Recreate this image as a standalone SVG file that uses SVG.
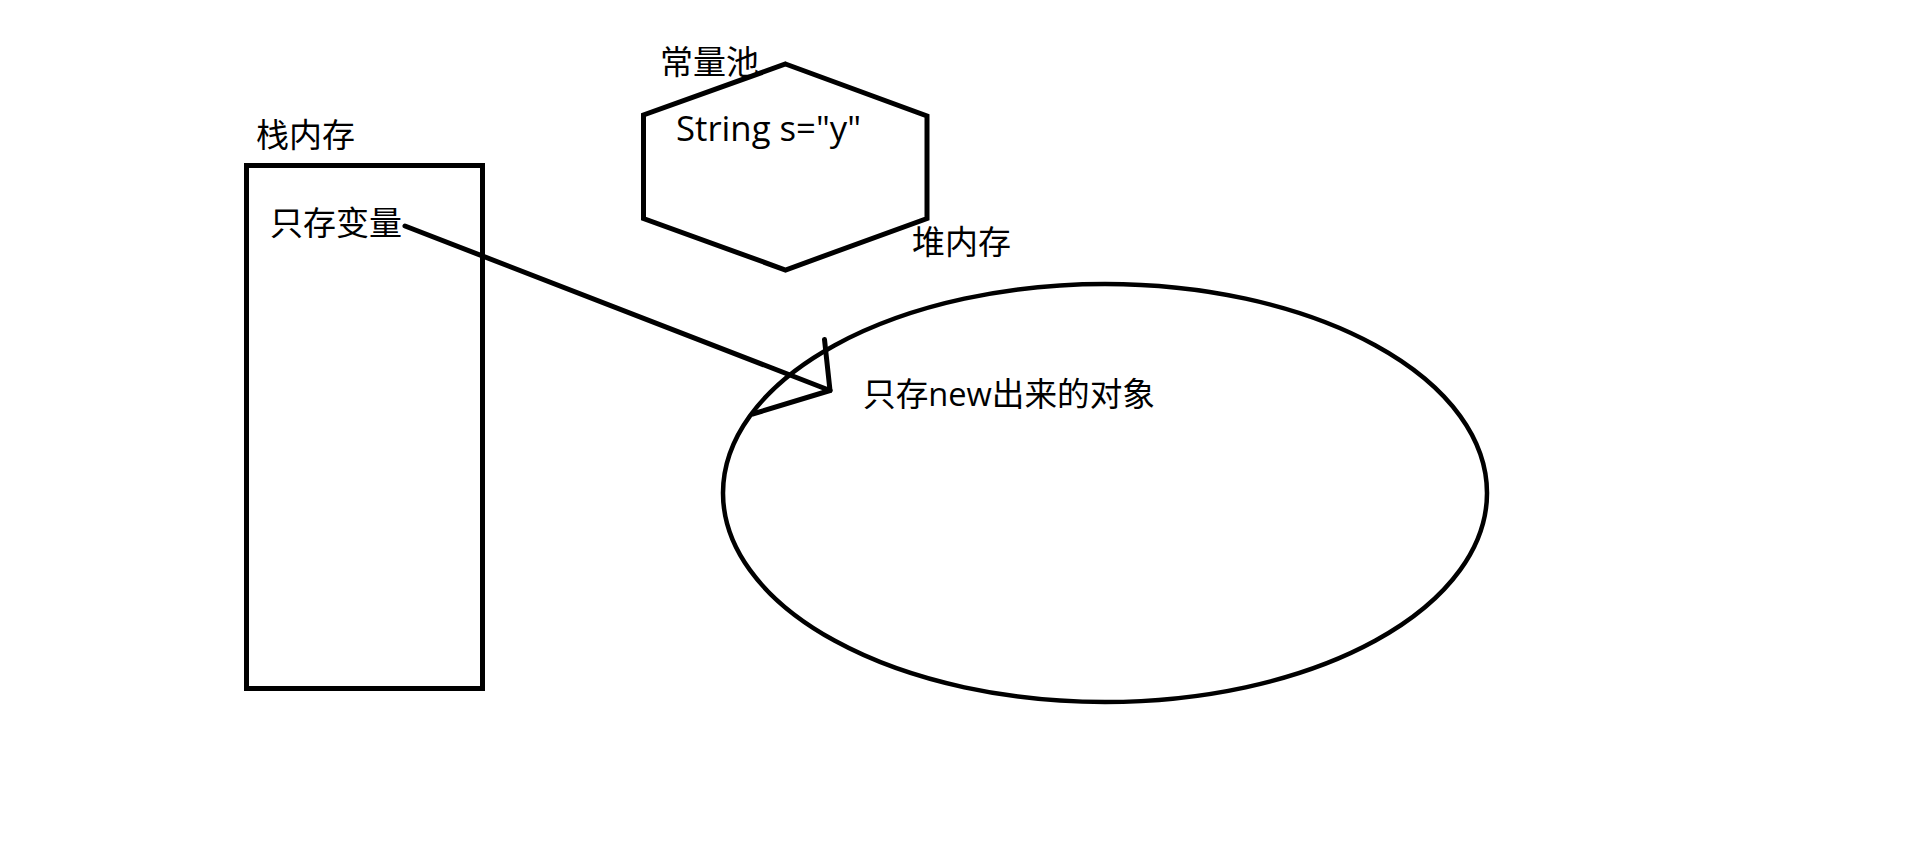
<svg xmlns="http://www.w3.org/2000/svg" width="1914" height="859" viewBox="0 0 1914 859">
<style>
.shape{fill:none;stroke:#000;stroke-width:5;stroke-linejoin:miter}
.t{font-family:"Open Sans","Noto Sans CJK SC",sans-serif;font-size:33px;fill:#000}
.conn{fill:none;stroke:#000;stroke-width:5;stroke-linecap:round;stroke-linejoin:round}
</style>
<rect width="1914" height="859" fill="#fff"/>
<g id="stack">
<rect class="shape" x="246.5" y="165.5" width="236" height="523"/>
<text class="t" x="256" y="147">栈内存</text>
<text class="t" x="270" y="235">只存变量</text>
</g>
<g id="constpool">
<polygon class="shape" points="785.5,64 927,116 927,218.5 785.5,270 643.5,218.5 643.5,115"/>
<text class="t" x="660" y="74">常量池</text>
<text class="t" x="676" y="141" style="font-size:34px" textLength="185" lengthAdjust="spacingAndGlyphs">String s="y"</text>
</g>
<g id="heap">
<ellipse class="shape" style="stroke-width:4.5" cx="1105" cy="493" rx="382" ry="209"/>
<text class="t" x="912" y="254">堆内存</text>
<text class="t" x="863" y="406" textLength="292" lengthAdjust="spacingAndGlyphs">只存new出来的对象</text>
</g>
<g id="connectors">
<line class="conn" x1="405" y1="226" x2="830" y2="390.5"/>
<polyline class="conn" points="824.5,339.5 830,390.5 752.5,414"/>
</g>
</svg>
